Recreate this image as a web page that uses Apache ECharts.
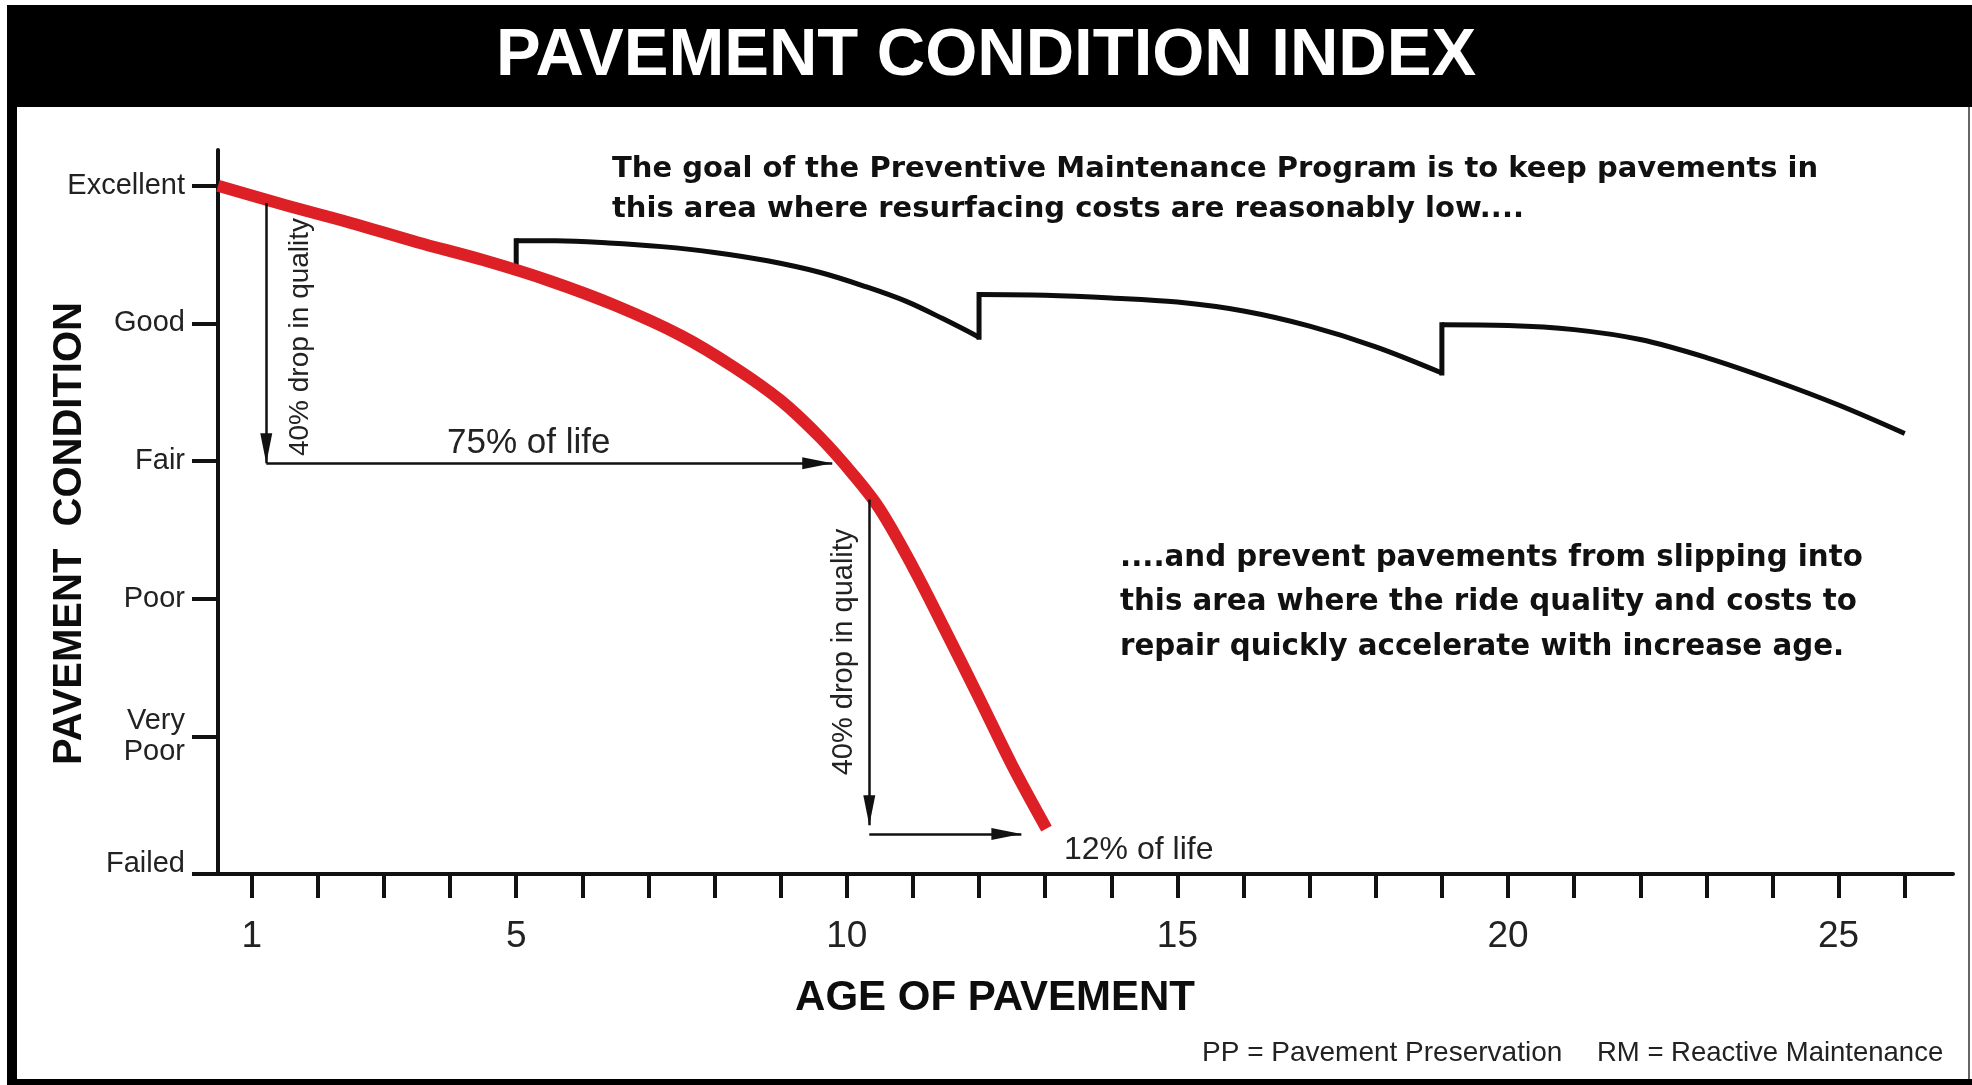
<!DOCTYPE html>
<html>
<head>
<meta charset="utf-8">
<script src="https://cdn.jsdelivr.net/npm/echarts@6/dist/echarts.min.js"></script>
<style>
html,body{margin:0;padding:0;background:#ffffff;}
#chart{width:1972px;height:1085px;}
</style>
</head>
<body>
<div id="chart"></div>
<script>
// ---------- data ----------
const conditionLevels = ['Failed', 'Very\nPoor', 'Poor', 'Fair', 'Good', 'Excellent'];
const conditionTicks = [0, 1, 2, 3, 4, 5];
const ageTicks = [1, 2, 3, 4, 5, 6, 7, 8, 9, 10, 11, 12, 13, 14, 15, 16, 17, 18, 19, 20, 21, 22, 23, 24, 25, 26];
const ageLabels = [1, 5, 10, 15, 20, 25];

// Reactive maintenance (red) curve
const rmAge = [0.49, 1.5, 2.5, 3.5, 4.5, 5.5, 6.5, 7.5, 8.3, 9.0, 9.6, 10.1, 10.5, 11.0, 11.5, 12.0, 12.5, 13.02];
const rmCondition = [5.0, 4.86, 4.73, 4.59, 4.46, 4.31, 4.13, 3.91, 3.68, 3.44, 3.17, 2.90, 2.65, 2.23, 1.76, 1.28, 0.79, 0.33];

// Pavement preservation (black) curve, three treatment cycles
const ppAge1 = [5.0, 5.6, 6.4, 7.2, 8.0, 8.8, 9.6, 10.3, 10.9, 11.45, 12.0];
const ppCondition1 = [4.60, 4.60, 4.585, 4.558, 4.516, 4.455, 4.37, 4.265, 4.16, 4.035, 3.90];
const ppAge2 = [12, 13, 14, 15, 16, 17, 18, 19];
const ppCondition2 = [4.21, 4.205, 4.185, 4.155, 4.09, 3.98, 3.83, 3.64];
const ppAge3 = [19, 20, 21, 22, 23, 24, 25, 26];
const ppCondition3 = [3.99, 3.985, 3.955, 3.883, 3.752, 3.589, 3.407, 3.20];

// treatments (vertical jumps)
const treatmentAge = [5, 12, 19];
const treatmentFrom = [4.40, 3.90, 3.64];
const treatmentTo = [4.60, 4.21, 3.99];

// annotation arrows (start -> tip), in axis units
const arrowStart = [[1.22, 4.875], [1.22, 2.985], [10.34, 2.72], [10.34, 0.29]];
const arrowTip = [[1.22, 2.985], [9.78, 2.985], [10.34, 0.355], [12.64, 0.29]];

// ---------- chart ----------
const SANS = '"Liberation Sans", Arial, sans-serif';
const HEAVY = '"DejaVu Sans", sans-serif';
const zip = (a, b) => a.map((v, i) => [v, b[i]]);

const chart = echarts.init(document.getElementById('chart'), null, {renderer: 'canvas'});

const curveStyle = {color: '#0d0d0d', width: 5};
const series = [];
series.push({
  name: 'PP cycle 1', type: 'line', data: zip(ppAge1, ppCondition1), smooth: 0.35,
  symbol: 'none', z: 3, lineStyle: curveStyle,
  markLine: {
    silent: true, symbol: ['none', 'triangle'], symbolSize: [12, 30],
    symbolOffset: [[0, 0], [0, '50%']],
    label: {show: false},
    lineStyle: {color: '#111', width: 2.5, type: 'solid'},
    itemStyle: {color: '#111'},
    emphasis: {disabled: true},
    data: arrowStart.map((s, i) => [{coord: s}, {coord: arrowTip[i]}])
  }
});
series.push({
  name: 'PP cycle 2', type: 'line', data: zip(ppAge2, ppCondition2), smooth: 0.35,
  symbol: 'none', z: 3, lineStyle: curveStyle
});
series.push({
  name: 'PP cycle 3', type: 'line', data: zip(ppAge3, ppCondition3), smooth: 0.35,
  symbol: 'none', z: 3, lineStyle: curveStyle
});
treatmentAge.forEach((a, i) => {
  series.push({
    name: 'PP treatment ' + (i + 1), type: 'line', data: [[a, treatmentFrom[i]], [a, treatmentTo[i]]],
    symbol: 'none', z: 3, lineStyle: {color: '#0d0d0d', width: 5, cap: 'square'}
  });
});
series.push({
  name: 'RM', type: 'line', data: zip(rmAge, rmCondition), smooth: 0.35,
  symbol: 'none', z: 4, lineStyle: {color: '#dd1f26', width: 12}
});

const option = {
  animation: false,
  backgroundColor: '#ffffff',
  title: {
    text: 'PAVEMENT CONDITION INDEX', left: 'center', top: 22, padding: 0,
    textStyle: {color: '#ffffff', fontFamily: SANS, fontWeight: 'bold', fontSize: 67, lineHeight: 70}
  },
  grid: {left: 218, right: 19, top: 150, bottom: 211, containLabel: false, outerBoundsMode: 'none'},
  xAxis: {
    type: 'value', min: 0.49, max: 26.73,
    axisLine: {show: true, onZero: false, lineStyle: {color: '#111', width: 4}},
    axisTick: {show: true, customValues: ageTicks, length: 24, lineStyle: {color: '#111', width: 4}},
    axisLabel: {customValues: ageLabels, margin: 44, color: '#222', fontFamily: SANS, fontSize: 37, lineHeight: 37},
    splitLine: {show: false},
    name: 'AGE OF PAVEMENT', nameLocation: 'middle', nameGap: 103, nameMoveOverlap: false,
    nameTextStyle: {color: '#0d0d0d', fontFamily: SANS, fontWeight: 'bold', fontSize: 42, lineHeight: 42, padding: [0, 181, 0, 0]}
  },
  yAxis: {
    type: 'value', min: 0, max: 5.26,
    axisLine: {show: true, onZero: false, lineStyle: {color: '#111', width: 4}},
    axisTick: {show: true, customValues: conditionTicks, length: 26, lineStyle: {color: '#111', width: 4}},
    axisLabel: {
      customValues: conditionTicks, margin: 33, color: '#222', fontFamily: SANS, fontSize: 29, lineHeight: 31,
      formatter: v => { const i = Math.round(v); return i === 0 ? '{f|' + conditionLevels[0] + '}' : conditionLevels[i]; },
      rich: {f: {color: '#222', fontFamily: SANS, fontSize: 29, lineHeight: 31, padding: [0, 0, 20, 0]}}
    },
    splitLine: {show: false},
    name: 'PAVEMENT  CONDITION', nameLocation: 'middle', nameGap: 128, nameRotate: 90, nameMoveOverlap: false,
    nameTextStyle: {color: '#0d0d0d', fontFamily: SANS, fontWeight: 'bold', fontSize: 40, lineHeight: 40, padding: [0, 43, 0, 0]}
  },
  graphic: [
    {type: 'rect', z: 1, shape: {x: 7, y: 5, width: 1965, height: 102}, style: {fill: '#000'}},
    {type: 'rect', z: 1, shape: {x: 7, y: 5, width: 10, height: 1080}, style: {fill: '#000'}},
    {type: 'rect', z: 1, shape: {x: 7, y: 1079, width: 1965, height: 6}, style: {fill: '#000'}},
    {type: 'rect', z: 1, shape: {x: 1968, y: 107, width: 2, height: 972}, style: {fill: '#666'}},
    {type: 'text', z: 5, x: 612, y: 149.5, style: {
      text: 'The goal of the Preventive Maintenance Program is to keep pavements in\nthis area where resurfacing costs are reasonably low....',
      font: 'bold 29px ' + HEAVY, fill: '#111', lineHeight: 40, align: 'left', verticalAlign: 'top'}},
    {type: 'text', z: 5, x: 1120, y: 536, style: {
      text: '....and prevent pavements from slipping into\nthis area where the ride quality and costs to\nrepair quickly accelerate with increase age.',
      font: 'bold 29.3px ' + HEAVY, fill: '#111', lineHeight: 44.5, align: 'left', verticalAlign: 'top'}},
    {type: 'text', z: 5, x: 300.5, y: 337, rotation: Math.PI / 2, style: {
      text: '40% drop in quality', font: '28px ' + SANS, fill: '#222', align: 'center', verticalAlign: 'middle'}},
    {type: 'text', z: 5, x: 844, y: 652, rotation: Math.PI / 2, style: {
      text: '40% drop in quality', font: '29px ' + SANS, fill: '#222', align: 'center', verticalAlign: 'middle'}},
    {type: 'text', z: 5, x: 447, y: 443, style: {
      text: '75% of life', font: '35px ' + SANS, fill: '#222', align: 'left', verticalAlign: 'middle'}},
    {type: 'text', z: 5, x: 1064, y: 850, style: {
      text: '12% of life', font: '32px ' + SANS, fill: '#222', align: 'left', verticalAlign: 'middle'}},
    {type: 'text', z: 5, x: 1202, y: 1053, style: {
      text: 'PP = Pavement Preservation', font: '28px ' + SANS, fill: '#222', align: 'left', verticalAlign: 'middle'}},
    {type: 'text', z: 5, x: 1597, y: 1053, style: {
      text: 'RM = Reactive Maintenance', font: '27.5px ' + SANS, fill: '#222', align: 'left', verticalAlign: 'middle'}}
  ],
  series: series
};
chart.setOption(option);
</script>
</body>
</html>
